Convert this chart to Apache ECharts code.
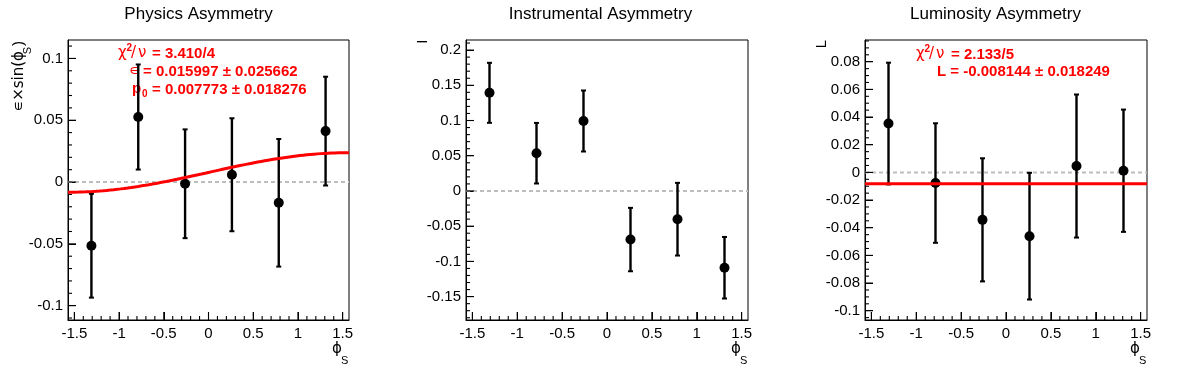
<!DOCTYPE html>
<html><head><meta charset="utf-8">
<script src="https://cdn.jsdelivr.net/npm/echarts@6/dist/echarts.min.js"></script>
<style>html,body{margin:0;padding:0;background:#fff}#c{width:1196px;height:372px}</style>
</head><body><div id="c"></div>
<script>
// ---------------- data ----------------
const PHI_BINS = [-1.309, -0.7854, -0.2618, 0.2618, 0.7854, 1.309];
const X_MIN = -Math.PI / 2, X_MAX = Math.PI / 2;
const X_TICKS = [-1.5, -1, -0.5, 0, 0.5, 1, 1.5];

const TITLES = ['Physics Asymmetry', 'Instrumental Asymmetry', 'Luminosity Asymmetry'];

const PHYS_Y   = [-0.0515, 0.0526, -0.0014, 0.0059, -0.0168, 0.0412];
const PHYS_ERR = [0.0420, 0.0425, 0.0440, 0.0457, 0.0516, 0.0440];
const INST_Y   = [0.1393, 0.0536, 0.0993, -0.0690, -0.0401, -0.1090];
const INST_ERR = [0.0426, 0.0430, 0.0433, 0.0450, 0.0516, 0.0437];
const LUMI_Y   = [0.0353, -0.0077, -0.0343, -0.0461, 0.0046, 0.0012];
const LUMI_ERR = [0.0440, 0.0432, 0.0445, 0.0458, 0.0517, 0.0442];

const PHYS_Y_RANGE = [-0.1116, 0.1149];
const INST_Y_RANGE = [-0.1832, 0.2143];
const LUMI_Y_RANGE = [-0.1067, 0.0957];

const PHYS_Y_TICKS = [-0.1, -0.05, 0, 0.05, 0.1];
const INST_Y_TICKS = [-0.15, -0.1, -0.05, 0, 0.05, 0.1, 0.15, 0.2];
const LUMI_Y_TICKS = [-0.1, -0.08, -0.06, -0.04, -0.02, 0, 0.02, 0.04, 0.06, 0.08];

// fit results
const PHYS_FIT_EPS = 0.015997, PHYS_FIT_EPS_ERR = 0.025662;
const PHYS_FIT_P0 = 0.007773, PHYS_FIT_P0_ERR = 0.018276;
const PHYS_FIT_CHI2 = '3.410/4';
const LUMI_FIT_L = -0.008144, LUMI_FIT_L_ERR = 0.018249;
const LUMI_FIT_CHI2 = '2.133/5';

// ---------------- helpers ----------------
function minorTicks(lo, hi, step) {
  const out = [];
  const n0 = Math.ceil(lo / step - 1e-9), n1 = Math.floor(hi / step + 1e-9);
  for (let i = n0; i <= n1; i++) out.push(Math.round(i * step * 1e6) / 1e6);
  return out;
}
const X_MINOR = minorTicks(X_MIN, X_MAX, 0.1);

const FONT = "'Liberation Sans', Arial, Helvetica, sans-serif";
const SYM = "'DejaVu Sans', 'Liberation Sans', sans-serif";
const fmt = v => String(Math.round(v * 1e6) / 1e6);

const GRIDS = [
  { left: 68, top: 40, width: 281, height: 280 },
  { left: 466, top: 40, width: 282, height: 280 },
  { left: 865, top: 40, width: 282, height: 280 }
];

const panels = [
  { y: PHYS_Y, err: PHYS_ERR, range: PHYS_Y_RANGE, ticks: PHYS_Y_TICKS, minor: minorTicks(PHYS_Y_RANGE[0], PHYS_Y_RANGE[1], 0.01) },
  { y: INST_Y, err: INST_ERR, range: INST_Y_RANGE, ticks: INST_Y_TICKS, minor: minorTicks(INST_Y_RANGE[0], INST_Y_RANGE[1], 0.01) },
  { y: LUMI_Y, err: LUMI_ERR, range: LUMI_Y_RANGE, ticks: LUMI_Y_TICKS, minor: minorTicks(LUMI_Y_RANGE[0], LUMI_Y_RANGE[1], 0.005) }
];

const xAxis = [], yAxis = [], series = [];
panels.forEach((p, g) => {
  xAxis.push({
    type: 'value', gridIndex: g, min: X_MIN, max: X_MAX, position: 'bottom',
    axisLine: { show: true, onZero: false, lineStyle: { color: '#000', width: 1 } }, splitLine: { show: false },
    axisTick: { show: true, inside: true, length: 8, customValues: X_TICKS, lineStyle: { color: '#000', width: 1 } },
    minorTick: { show: false },
    axisLabel: { show: true, customValues: X_TICKS, margin: 6, color: '#000', fontSize: 15, fontFamily: FONT, formatter: fmt }
  });
  yAxis.push({
    type: 'value', gridIndex: g, min: p.range[0], max: p.range[1], position: 'left',
    axisLine: { show: true, onZero: false, lineStyle: { color: '#000', width: 1 } }, splitLine: { show: false },
    axisTick: { show: true, inside: true, length: 8, customValues: p.ticks, lineStyle: { color: '#000', width: 1 } },
    axisLabel: { show: true, customValues: p.ticks, margin: 5, color: '#000', fontSize: 15, fontFamily: FONT, formatter: fmt }
  });

  const xi = g, yi = g;
  // zero reference line
  series.push({
    type: 'line', xAxisIndex: xi, yAxisIndex: yi, data: [[X_MIN, 0], [X_MAX, 0]],
    showSymbol: false, symbol: 'none', silent: true, z: 1,
    lineStyle: { color: '#bdbdbd', width: 2, type: [4, 3] }
  });
  // error bars (the first item also carries the frame's tick marks, placed through the axis scales)
  series.push({
    type: 'custom', xAxisIndex: xi, yAxisIndex: yi, z: 3,
    data: PHI_BINS.map((x, i) => [x, p.y[i], p.err[i]]),
    renderItem: function (params, api) {
      const x = api.value(0), y = api.value(1), e = api.value(2);
      const t = api.coord([x, y + e]), b = api.coord([x, y - e]);
      const st = { stroke: '#000', lineWidth: 2.4 };
      const kids = [
        { type: 'line', shape: { x1: t[0], y1: t[1], x2: b[0], y2: b[1] }, style: st },
        { type: 'line', shape: { x1: t[0] - 2.5, y1: t[1], x2: t[0] + 2.5, y2: t[1] }, style: { stroke: '#000', lineWidth: 2 } },
        { type: 'line', shape: { x1: b[0] - 2.5, y1: b[1], x2: b[0] + 2.5, y2: b[1] }, style: { stroke: '#000', lineWidth: 2 } }
      ];
      if (params.dataIndex === 0) {
        X_MINOR.forEach(v => {
          const c = api.coord([v, p.range[0]]);
          const len = X_TICKS.indexOf(v) >= 0 ? 8 : 4;
          kids.push({ type: 'line', shape: { x1: c[0], y1: c[1], x2: c[0], y2: c[1] - len }, style: { stroke: '#000', lineWidth: 1.1 } });
        });
        p.minor.forEach(v => {
          const c = api.coord([X_MIN, v]);
          const len = p.ticks.indexOf(v) >= 0 ? 8 : 4;
          kids.push({ type: 'line', shape: { x1: c[0], y1: c[1], x2: c[0] + len, y2: c[1] }, style: { stroke: '#000', lineWidth: 1.1 } });
        });
      }
      return { type: 'group', children: kids };
    }
  });
  // markers
  series.push({
    type: 'scatter', xAxisIndex: xi, yAxisIndex: yi, z: 4,
    data: PHI_BINS.map((x, i) => [x, p.y[i]]),
    symbol: 'circle', symbolSize: 10, itemStyle: { color: '#000', opacity: 1 }
  });
});

// fit curve, physics panel: p0 + eps*sin(phi)
const fitPts = [];
for (let i = 0; i <= 80; i++) {
  const x = X_MIN + (X_MAX - X_MIN) * i / 80;
  fitPts.push([x, PHYS_FIT_P0 + PHYS_FIT_EPS * Math.sin(x)]);
}
series.push({
  type: 'line', xAxisIndex: 0, yAxisIndex: 0, data: fitPts, showSymbol: false, symbol: 'none',
  z: 6, lineStyle: { color: '#ff0000', width: 3 }
});
// fit line, luminosity panel: constant L
series.push({
  type: 'line', xAxisIndex: 2, yAxisIndex: 2, data: [[X_MIN, LUMI_FIT_L], [X_MAX, LUMI_FIT_L]],
  showSymbol: false, symbol: 'none', z: 6, lineStyle: { color: '#ff0000', width: 3 }
});

// ---------------- texts ----------------
const graphic = [];
const TITLE_X = [198.5, 600.5, 995.5];
TITLES.forEach((t, i) => graphic.push({
  type: 'text', x: TITLE_X[i], y: 14,
  style: { text: t, font: '17px ' + FONT, fill: '#000', align: 'center', verticalAlign: 'middle' }
}));

function txt(x, y, text, size, bold, color, family) {
  return { type: 'text', x: x, y: y, style: { text: text, font: (bold ? 'bold ' : '') + size + 'px ' + (family || FONT), fill: color || '#000', align: 'left', verticalAlign: 'middle' } };
}
const fmtNum = v => v.toFixed(6);

// physics fit box
const RED = '#ff0000';
graphic.push(txt(118, 53, 'χ', 15, false, RED, SYM));
graphic.push(txt(126.5, 48, '2', 10, true, RED));
graphic.push(txt(131, 53, '/', 15, false, RED, SYM));
graphic.push(txt(138, 53, 'ν', 15, false, RED, SYM));
graphic.push(txt(152, 54, '= ' + PHYS_FIT_CHI2, 15, true, RED));
graphic.push(txt(129, 71, '∊', 15, false, RED, SYM));
graphic.push(txt(143, 72, '= ' + fmtNum(PHYS_FIT_EPS) + ' ± ' + fmtNum(PHYS_FIT_EPS_ERR), 15, true, RED));
graphic.push(txt(132, 89, 'p', 15, true, RED));
graphic.push(txt(142, 94, '0', 10, true, RED));
graphic.push(txt(152, 90, '= ' + fmtNum(PHYS_FIT_P0) + ' ± ' + fmtNum(PHYS_FIT_P0_ERR), 15, true, RED));

// luminosity fit box
graphic.push(txt(916, 54, 'χ', 15, false, RED, SYM));
graphic.push(txt(924.5, 49, '2', 10, true, RED));
graphic.push(txt(929, 54, '/', 15, false, RED, SYM));
graphic.push(txt(936, 54, 'ν', 15, false, RED, SYM));
graphic.push(txt(951, 55, '= ' + LUMI_FIT_CHI2, 15, true, RED));
graphic.push(txt(937, 72, 'L = ' + fmtNum(LUMI_FIT_L) + ' ± ' + fmtNum(LUMI_FIT_L_ERR), 15, true, RED));

// y-axis titles (rotated)
function yTitle(x, yEnd, parts) {
  return { type: 'group', x: x, y: yEnd, rotation: Math.PI / 2, children: parts };
}
graphic.push(yTitle(19, 41, [
  { type: 'text', x: -10, y: 0, style: { text: '∊×sin(ϕ', font: '15px ' + SYM, fill: '#000', align: 'right', verticalAlign: 'middle' } },
  { type: 'text', x: -9.5, y: 9, style: { text: 'S', font: '11px ' + FONT, fill: '#000', align: 'center', verticalAlign: 'middle' } },
  { type: 'text', x: 0, y: 0, style: { text: ')', font: '15px ' + FONT, fill: '#000', align: 'right', verticalAlign: 'middle' } }
]));
graphic.push(yTitle(422.5, 39.5, [
  { type: 'text', x: 0, y: 0, style: { text: 'I', font: '15px ' + FONT, fill: '#000', align: 'right', verticalAlign: 'middle' } }
]));
graphic.push(yTitle(822, 40, [
  { type: 'text', x: 0, y: 0, style: { text: 'L', font: '15px ' + FONT, fill: '#000', align: 'right', verticalAlign: 'middle' } }
]));

// x-axis titles
GRIDS.forEach(gr => {
  const r = gr.left + gr.width;
  graphic.push(txt(r - 17, 349, 'ϕ', 15, false, '#000', SYM));
  graphic.push(txt(r - 8, 361, 'S', 11, false, '#000'));
});

const chart = echarts.init(document.getElementById('c'), null, { renderer: 'canvas' });
chart.setOption({
  backgroundColor: '#fff',
  animation: false,
  grid: GRIDS.map(g => Object.assign({ show: true, borderColor: '#000', borderWidth: 1, backgroundColor: 'transparent', containLabel: false }, g)),
  xAxis: xAxis,
  yAxis: yAxis,
  series: series,
  graphic: graphic
});
</script></body></html>
